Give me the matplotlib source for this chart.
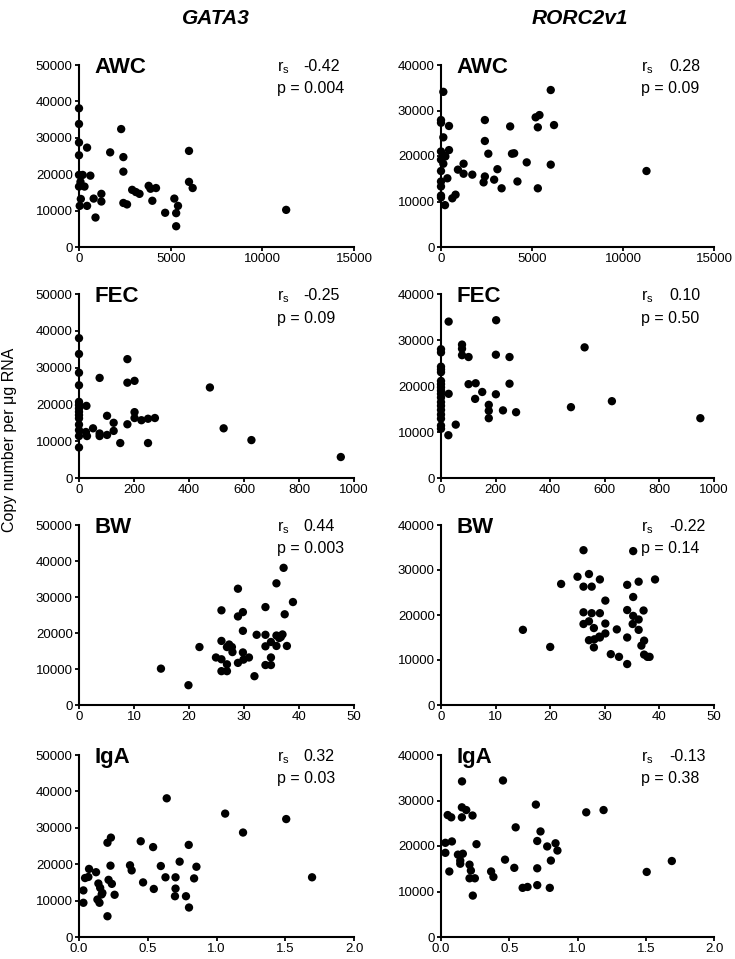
import matplotlib
matplotlib.use("Agg")
import matplotlib.pyplot as plt

plt.rcParams['font.family'] = ['Liberation Sans', 'DejaVu Sans']
plt.rcParams['mathtext.fontset'] = 'custom'
plt.rcParams['mathtext.rm'] = 'Liberation Sans'

# GATA3 copy number vs AWC / FEC / BW / IgA
gata3_awc_x = [0, 0, 0, 0, 0, 200, 80, 0, 300, 100, 40, 440, 440, 620, 800, 900,
               1220, 1220, 1700, 2300, 2420, 2420, 2420, 2620, 2900, 3100, 3300,
               3800, 3900, 4200, 4000, 4700, 5200, 5300, 5300, 5400, 6000, 6000, 6200, 11300]
gata3_awc_y = [38100, 33800, 28700, 25200, 19800, 19800, 17900, 16600, 16600, 13200, 11300,
               11300, 27300, 19600, 13300, 8100, 14600, 12500, 26000, 32400, 24700, 20700,
               12100, 11700, 15700, 15100, 14600, 16800, 16000, 16200, 12700, 9400, 13300,
               9300, 5700, 11300, 26400, 17900, 16200, 10200]

gata3_fec_x = [0, 0, 0, 0, 0, 0, 0, 0, 0, 0, 0, 0, 0, 0, 27, 25, 29, 51, 75, 75, 75,
               102, 102, 126, 126, 150, 176, 176, 202, 176, 202, 202, 227, 251, 276, 251,
               476, 526, 627, 952]
gata3_fec_y = [38000, 33700, 28600, 25200, 20700, 19800, 18900, 18000, 17100, 16200, 14500,
               13000, 11400, 8300, 19600, 12500, 11400, 13500, 27200, 12100, 11400, 11700,
               16900, 15000, 12800, 9500, 32300, 25900, 26400, 14600, 17900, 16300, 15700,
               16100, 16300, 9500, 24600, 13500, 10300, 5700]

gata3_bw_x = [37.2, 28.9, 35.9, 38.9, 33.9, 25.9, 37.4, 29.8, 28.9, 29.8, 32.3, 33.9, 35.9,
              37.0, 36.7, 36.4, 25.9, 27.3, 27.8, 26.9, 21.9, 27.9, 34.9, 33.9, 35.9, 37.8,
              29.8, 24.9, 25.9, 30.9, 29.9, 34.9, 26.9, 28.9, 33.9, 34.9, 25.9, 26.9, 31.9,
              14.9, 19.9]
gata3_bw_y = [38100, 32300, 33800, 28600, 27200, 26300, 25200, 25800, 24600, 20600, 19500,
              19500, 19300, 19600, 18900, 18600, 17800, 16800, 16100, 16100, 16100, 14700,
              17500, 16300, 16400, 16400, 14600, 13200, 12700, 13200, 12600, 13200, 11300,
              11700, 11100, 11100, 9400, 9400, 8000, 10100, 5500]

gata3_iga_x = [1.063, 1.507, 1.193, 1.695, 0.232, 0.207, 0.449, 0.539, 0.798, 0.732, 0.371,
               0.383, 0.595, 0.229, 0.854, 0.073, 0.124, 0.044, 0.068, 0.215, 0.239, 0.466,
               0.629, 0.702, 0.837, 0.141, 0.154, 0.032, 0.544, 0.702, 0.17, 0.165, 0.259,
               0.698, 0.778, 0.134, 0.149, 0.032, 0.80, 0.207, 0.638]
gata3_iga_y = [33900, 32400, 28700, 16400, 27300, 25900, 26300, 24700, 25300, 20700, 19700,
               18300, 19500, 19600, 19300, 18700, 17800, 16200, 16500, 15700, 14600, 15000,
               16400, 16400, 16100, 14700, 13500, 12800, 13200, 13300, 12100, 11700, 11600,
               11200, 11200, 10300, 9400, 9400, 8100, 5700, 38100]

# RORC2v1 copy number vs AWC / FEC / BW / IgA
rorc_awc_x = [128, 0, 0, 440, 128, 0, 128, 240, 0, 128, 440, 0, 0, 0, 350, 0, 0, 220, 620,
              800, 930, 1240, 1240, 1720, 2410, 2410, 2410, 2340, 2600, 2920, 3100, 3330,
              3800, 3900, 4020, 4200, 4710, 5200, 5410, 5320, 5320, 6030, 6030, 6210, 11290]
rorc_awc_y = [34100, 27900, 27300, 26600, 24100, 21000, 20200, 19900, 19200, 18300, 21300,
              16700, 14400, 13300, 15100, 11300, 10900, 9200, 10700, 11500, 17000, 18300,
              16100, 15900, 27900, 23300, 15500, 14200, 20500, 14800, 17100, 12900, 26500,
              20500, 20600, 14400, 18600, 28500, 29000, 26300, 12900, 34500, 18100, 26800, 16700]

rorc_fec_x = [28, 202, 526, 0, 0, 0, 0, 0, 0, 0, 0, 0, 0, 0, 0, 0, 0, 0, 0, 0, 0,
              28, 27, 54, 77, 77, 77, 101, 101, 127, 125, 151, 175, 175, 175, 201, 201,
              227, 251, 251, 275, 476, 626, 950]
rorc_fec_y = [34000, 34300, 28400, 28000, 27300, 24200, 23600, 23000, 21100, 20400, 19700,
              19000, 18300, 17500, 16500, 15700, 14800, 13800, 12900, 11400, 10700, 18300,
              9300, 11600, 29000, 28100, 26700, 26300, 20400, 20600, 17200, 18700, 15900,
              14600, 13000, 26800, 18200, 14700, 26300, 20500, 14300, 15400, 16700, 13000]

rorc_bw_x = [15.0, 20.0, 22.0, 26.1, 35.2, 25.0, 27.1, 29.1, 26.1, 27.6, 34.1, 36.2, 39.2,
             30.1, 35.2, 26.1, 27.6, 29.1, 34.1, 37.1, 35.2, 36.2, 35.1, 26.1, 27.1, 30.1,
             28.0, 32.2, 36.2, 30.1, 29.1, 28.1, 27.1, 29.0, 34.1, 37.2, 36.7, 28.0, 31.1,
             32.6, 37.2, 37.8, 38.2, 34.1]
rorc_bw_y = [16700, 12900, 26900, 34400, 34200, 28500, 29100, 27900, 26300, 26300, 26700,
             27400, 27900, 23200, 24000, 20600, 20400, 20400, 21100, 21000, 19800, 19000,
             18000, 18000, 18600, 18100, 17100, 16800, 16700, 15900, 15000, 14600, 14400,
             15200, 15000, 14300, 13200, 12800, 11300, 10700, 11200, 10700, 10700, 9100]

rorc_iga_x = [0.695, 1.064, 1.191, 1.691, 1.507, 0.153, 0.185, 0.049, 0.075, 0.153, 0.231,
              0.547, 0.729, 0.032, 0.080, 0.260, 0.705, 0.778, 0.839, 0.853, 0.032, 0.124,
              0.160, 0.141, 0.141, 0.469, 0.805, 0.209, 0.219, 0.061, 0.367, 0.384, 0.537,
              0.705, 0.209, 0.248, 0.598, 0.634, 0.705, 0.797, 0.233, 0.154, 0.454]
rorc_iga_y = [29100, 27400, 27900, 16700, 14300, 28500, 27900, 26800, 26300, 26300, 26700,
              24100, 23200, 20700, 21000, 20400, 21100, 19900, 20600, 19000, 18500, 18100,
              18300, 16800, 16100, 17000, 16800, 15900, 14600, 14400, 14400, 13200, 15200,
              15100, 12900, 12900, 10800, 11000, 11400, 10800, 9100, 34200, 34400]

row_labels = ['AWC', 'FEC', 'BW', 'IgA']
col_titles = ['GATA3', 'RORC2v1']
gata3_rs = ['-0.42', '-0.25', '0.44', '0.32']
gata3_p = ['0.004', '0.09', '0.003', '0.03']
rorc_rs = ['0.28', '0.10', '-0.22', '-0.13']
rorc_p = ['0.09', '0.50', '0.14', '0.38']

x_maxes = [15000, 1000, 50, 2.0]
x_steps = [5000, 200, 10, 0.5]
y_maxes = [50000, 40000]

data = [
    [(gata3_awc_x, gata3_awc_y), (rorc_awc_x, rorc_awc_y)],
    [(gata3_fec_x, gata3_fec_y), (rorc_fec_x, rorc_fec_y)],
    [(gata3_bw_x, gata3_bw_y), (rorc_bw_x, rorc_bw_y)],
    [(gata3_iga_x, gata3_iga_y), (rorc_iga_x, rorc_iga_y)],
]
stats = [list(zip(gata3_rs, gata3_p)), list(zip(rorc_rs, rorc_p))]

W, H = 735, 959
fig = plt.figure(figsize=(W / 100, H / 100), dpi=100)

col_left = [79, 441]
col_width = [275, 273]
row_top = [65, 294, 525, 755]
row_height = [182, 184, 180, 182]
rs_x = [(0.72, 0.815), (0.732, 0.836)]

for r in range(4):
    for c in range(2):
        x0 = col_left[c] / W
        y0 = 1 - (row_top[r] + row_height[r]) / H
        ax = fig.add_axes([x0, y0, col_width[c] / W, row_height[r] / H])
        xs, ys = data[r][c]
        ax.scatter(xs, ys, s=36, color='black', edgecolors='none', clip_on=False, zorder=3)
        ax.set_xlim(0, x_maxes[r])
        ax.set_ylim(0, y_maxes[c])
        n = int(round(x_maxes[r] / x_steps[r]))
        xt = [i * x_steps[r] for i in range(n + 1)]
        ax.set_xticks(xt)
        if r == 3:
            ax.set_xticklabels(['%.1f' % v for v in xt])
        else:
            ax.set_xticklabels(['%d' % v for v in xt])
        ax.set_yticks(range(0, y_maxes[c] + 1, 10000))
        for s in ['top', 'right']:
            ax.spines[s].set_visible(False)
        for s in ['left', 'bottom']:
            ax.spines[s].set_linewidth(1.5)
        ax.tick_params(direction='out', length=3, width=1.3, pad=1.5,
                       labelsize=9.5, colors='black')

        ax.text(0.055, 0.955, row_labels[r], transform=ax.transAxes,
                fontsize=16, fontweight='bold', va='baseline', ha='left')
        rs, p = stats[c][r]
        ax.text(rs_x[c][0], 0.965, r'r$_{\mathregular{s}}$', transform=ax.transAxes,
                fontsize=11.5, va='baseline', ha='left')
        ax.text(rs_x[c][1], 0.965, rs, transform=ax.transAxes,
                fontsize=11.5, va='baseline', ha='left')
        ax.text(rs_x[c][0], 0.845, 'p = ' + p, transform=ax.transAxes,
                fontsize=11.5, va='baseline', ha='left')

fig.text(216 / W, 1 - 18 / H, col_titles[0], fontsize=15, fontweight='bold',
         style='italic', ha='center', va='center')
fig.text(580 / W, 1 - 18 / H, col_titles[1], fontsize=15, fontweight='bold',
         style='italic', ha='center', va='center')
fig.text(10 / W, 1 - 440 / H, 'Copy number per \u03bcg RNA', rotation=90,
         fontsize=11.5, ha='center', va='center')

fig.savefig('out.png', dpi=100)
